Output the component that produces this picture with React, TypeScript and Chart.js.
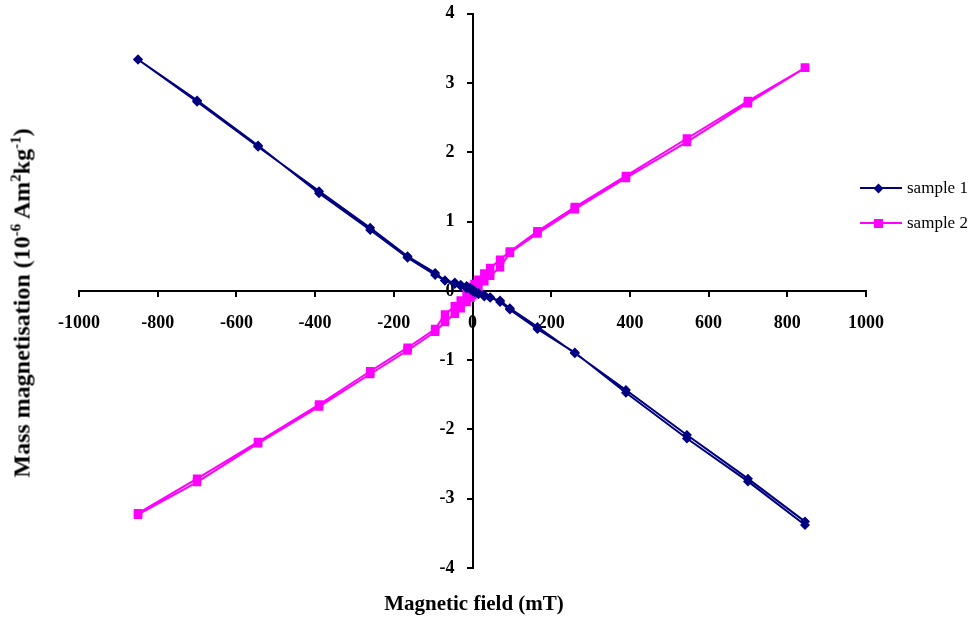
import React, { useEffect, useRef } from 'react';
import { Chart, registerables } from 'chart.js';

Chart.register(...registerables);

// Magnetic field (mT): descending branch then ascending branch of the loop
const FIELD_DOWN = [845, 700, 545, 390, 260, 165, 95, 70, 45, 30, 15, 5, 0, -5, -15, -30, -45, -70, -95, -165, -260, -390, -545, -700, -850];
const FIELD_UP = [-850, -700, -545, -390, -260, -165, -95, -70, -45, -30, -15, -5, 0, 5, 15, 30, 45, 70, 95, 165, 260, 390, 545, 700, 845];

// Mass magnetisation (10^-6 Am2/kg)
const SAMPLE1_DOWN = [-3.38, -2.75, -2.13, -1.47, -0.89, -0.55, -0.27, -0.16, -0.09, -0.06, -0.03, 0.0, 0.02, 0.04, 0.07, 0.09, 0.12, 0.15, 0.26, 0.5, 0.91, 1.44, 2.08, 2.73, 3.34];
const SAMPLE1_UP = [3.34, 2.75, 2.1, 1.41, 0.88, 0.48, 0.23, 0.15, 0.1, 0.07, 0.04, 0.02, 0.0, -0.02, -0.05, -0.08, -0.1, -0.14, -0.25, -0.52, -0.9, -1.43, -2.08, -2.71, -3.33];
const SAMPLE2_DOWN = [3.22, 2.74, 2.2, 1.66, 1.21, 0.86, 0.57, 0.45, 0.33, 0.25, 0.16, 0.1, 0.06, 0.02, -0.05, -0.14, -0.22, -0.34, -0.55, -0.82, -1.16, -1.64, -2.18, -2.71, -3.21];
const SAMPLE2_UP = [-3.23, -2.76, -2.2, -1.67, -1.2, -0.86, -0.59, -0.45, -0.33, -0.25, -0.16, -0.1, -0.06, -0.02, 0.05, 0.14, 0.22, 0.34, 0.55, 0.83, 1.18, 1.63, 2.15, 2.71, 3.22];

const SERIES_NAMES = ['sample 1', 'sample 2'];
const SERIES_COLORS = ['#000080', '#FF00FF'];

const X_MIN = -1000;
const X_MAX = 1000;
const X_STEP = 200;
const Y_MIN = -4;
const Y_MAX = 4;
const Y_STEP = 1;

const X_TITLE = 'Magnetic field (mT)';

function loop(fDown: number[], vDown: number[], fUp: number[], vUp: number[]) {
  const pts = fDown.map((f, i) => ({ x: f, y: vDown[i] }));
  return pts.concat(fUp.map((f, i) => ({ x: f, y: vUp[i] })));
}

export default function App() {
  const ref = useRef<HTMLCanvasElement | null>(null);

  useEffect(() => {
    if (!ref.current) return;
    const tickFont = { family: '"Liberation Serif", "Times New Roman", serif', size: 18, weight: 'bold' as const };
    const chart = new Chart(ref.current, {
      type: 'scatter',
      data: {
        datasets: [
          {
            label: SERIES_NAMES[0],
            data: loop(FIELD_DOWN, SAMPLE1_DOWN, FIELD_UP, SAMPLE1_UP),
            showLine: true,
            borderColor: SERIES_COLORS[0],
            backgroundColor: SERIES_COLORS[0],
            borderWidth: 2,
            pointStyle: 'rectRot',
            pointRadius: 5,
            pointBorderWidth: 0,
            tension: 0,
          },
          {
            label: SERIES_NAMES[1],
            data: loop(FIELD_DOWN, SAMPLE2_DOWN, FIELD_UP, SAMPLE2_UP),
            showLine: true,
            borderColor: SERIES_COLORS[1],
            backgroundColor: SERIES_COLORS[1],
            borderWidth: 2,
            pointStyle: 'rect',
            pointRadius: 6,
            pointBorderWidth: 0,
            tension: 0,
          },
        ],
      },
      options: {
        animation: false,
        responsive: false,
        maintainAspectRatio: false,
        layout: { padding: { left: 79, right: 108, top: 4, bottom: 49 } },
        plugins: { legend: { display: false }, tooltip: { enabled: false } },
        scales: {
          x: {
            type: 'linear',
            position: { y: 0 },
            min: X_MIN,
            max: X_MAX,
            ticks: {
              stepSize: X_STEP,
              color: '#000',
              font: tickFont,
              padding: 17,
              maxRotation: 0,
              autoSkip: false,
              callback: (v: any) => String(v),
            },
            grid: { display: true, drawOnChartArea: false, drawTicks: true, tickLength: 5, color: '#000', lineWidth: 2 },
            border: { display: true, color: '#000', width: 2 },
          },
          y: {
            type: 'linear',
            position: { x: 0 },
            min: Y_MIN,
            max: Y_MAX,
            ticks: {
              stepSize: Y_STEP,
              color: '#000',
              font: tickFont,
              autoSkip: false,
              callback: (v: any) => String(v) + '    ',
            },
            grid: { display: true, drawOnChartArea: false, drawTicks: true, tickLength: 5, color: '#000', lineWidth: 2 },
            border: { display: true, color: '#000', width: 2 },
          },
        },
      },
    });
    return () => chart.destroy();
  }, []);

  const serif = '"Liberation Serif", "Times New Roman", serif';

  const legendIcon = (i: number) => (
    <div style={{ position: 'relative', width: 42, height: 16, marginRight: 5 }}>
      <div style={{ position: 'absolute', left: 0, right: 0, top: 7, height: 2, background: SERIES_COLORS[i] }} />
      {i === 0 ? (
        <div style={{ position: 'absolute', left: 15, top: 4.5, width: 7, height: 7, background: SERIES_COLORS[i], transform: 'rotate(45deg)' }} />
      ) : (
        <div style={{ position: 'absolute', left: 14, top: 3.5, width: 9, height: 9, background: SERIES_COLORS[i] }} />
      )}
    </div>
  );

  return (
    <div style={{ position: 'absolute', left: 0, top: 0, width: 974, height: 617, background: '#fff' }}>
      <canvas ref={ref} width={974} height={617} style={{ position: 'absolute', left: 0, top: 0, width: 974, height: 617 }} />
      <div
        style={{
          position: 'absolute',
          left: 21,
          top: 303,
          transform: 'translate(-50%, -50%) rotate(-90deg)',
          whiteSpace: 'nowrap',
          fontFamily: serif,
          fontWeight: 'bold',
          fontSize: 24,
          color: '#000',
          lineHeight: 1,
        }}
      >
        Mass magnetisation (10<sup style={{ fontSize: 15 }}>-6</sup> Am<sup style={{ fontSize: 15 }}>2</sup>kg<sup style={{ fontSize: 15 }}>-1</sup>)
      </div>
      <div
        style={{
          position: 'absolute',
          left: 474,
          top: 603,
          transform: 'translate(-50%, -50%)',
          whiteSpace: 'nowrap',
          fontFamily: serif,
          fontWeight: 'bold',
          fontSize: 21,
          color: '#000',
          lineHeight: 1,
        }}
      >
        {X_TITLE}
      </div>
      <div style={{ position: 'absolute', left: 860, top: 176, fontFamily: serif, fontSize: 17, color: '#000' }}>
        {SERIES_NAMES.map((name, i) => (
          <div key={name} style={{ display: 'flex', alignItems: 'center', height: 24, marginBottom: i === 0 ? 11 : 0 }}>
            {legendIcon(i)}
            <span>{name}</span>
          </div>
        ))}
      </div>
    </div>
  );
}
